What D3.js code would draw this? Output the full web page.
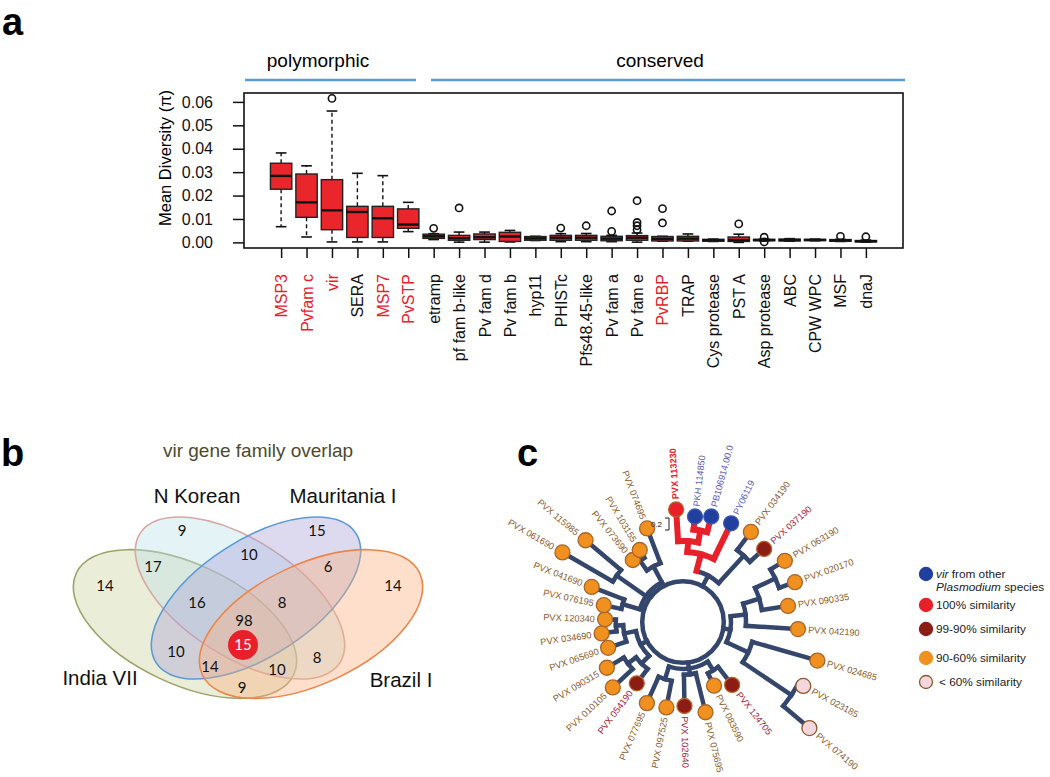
<!DOCTYPE html>
<html>
<head>
<meta charset="utf-8">
<script src="https://cdn.jsdelivr.net/npm/d3@7"></script>
<style>
  body { margin: 0; background: #fff; }
  svg { font-family: "Liberation Sans", Arial, sans-serif; }
</style>
</head>
<body>
<svg id="fig" width="1050" height="777"></svg>
<script>
// ---- panel a : diversity per gene family ----
const genes = ['MSP3', 'Pvfam c', 'vir', 'SERA', 'MSP7', 'PvSTP', 'etramp', 'pf fam b-like', 'Pv fam d',
  'Pv fam b', 'hyp11', 'PHISTc', 'Pfs48.45-like', 'Pv fam a', 'Pv fam e', 'PvRBP', 'TRAP', 'Cys protease',
  'PST A', 'Asp protease', 'ABC', 'CPW WPC', 'MSF', 'dnaJ']
const redGenes = ['MSP3', 'Pvfam c', 'vir', 'MSP7', 'PvSTP', 'PvRBP']
const whiskLo = [0.0067, 0.0023, 0.0002, 0.0002, 0.0002, 0.0046, 0.0012, 0.0001, 0.0001, 0.0002, 0.0008, 0.0003,
  0.0003, 0.0003, 0.0001, 0.0005, 0.0005, 0.0004, 0.0000, 0.0006, 0.0005, 0.0007, 0.0004, 0.0001]
const q1 = [0.0227, 0.0107, 0.0054, 0.0021, 0.0021, 0.0060, 0.0017, 0.0009, 0.0012, 0.0004, 0.0009, 0.0009,
  0.0009, 0.0007, 0.0009, 0.0006, 0.0006, 0.0005, 0.0004, 0.0007, 0.0006, 0.0008, 0.0005, 0.0002]
const medians = [0.0284, 0.0171, 0.0137, 0.0130, 0.0103, 0.0076, 0.0026, 0.0018, 0.0022, 0.0025, 0.0017, 0.0020,
  0.0020, 0.0016, 0.0020, 0.0015, 0.0016, 0.0009, 0.0010, 0.0010, 0.0010, 0.0010, 0.0008, 0.0005]
const q3 = [0.0338, 0.0292, 0.0268, 0.0154, 0.0154, 0.0143, 0.0035, 0.0030, 0.0036, 0.0043, 0.0025, 0.0030,
  0.0030, 0.0026, 0.0029, 0.0025, 0.0026, 0.0013, 0.0023, 0.0013, 0.0014, 0.0013, 0.0012, 0.0008]
const whiskHi = [0.0382, 0.0327, 0.0561, 0.0295, 0.0285, 0.0171, 0.0037, 0.0044, 0.0044, 0.0051, 0.0026, 0.0037,
  0.0038, 0.0030, 0.0040, 0.0026, 0.0036, 0.0014, 0.0035, 0.0014, 0.0016, 0.0014, 0.0013, 0.0010]
const outliers = [[], [], [0.0615], [], [], [], [0.0060], [0.0147], [], [], [], [0.0061],
  [0.0071], [0.0047, 0.0134], [0.0054, 0.0071, 0.0085, 0.0178], [0.0083, 0.0144], [], [],
  [0.0079], [0.0002, 0.0022], [], [], [0.0026], [0.0024]]
const yTicks = [0, 0.01, 0.02, 0.03, 0.04, 0.05, 0.06]

// ---- panel b : vir overlap ----
const vennSets = ['India VII', 'N Korean', 'Mauritania I', 'Brazil I']
// region key: sets (by initial) sharing the genes
const vennRegions = ['I', 'K', 'M', 'B', 'IK', 'KM', 'MB', 'IKM', 'KMB', 'IKMB', 'IM', 'KB', 'IMB', 'IKB', 'IB']
const vennCounts = [14, 9, 15, 14, 17, 10, 6, 16, 8, 98, 10, 8, 14, 10, 9]
const vennCore = 15

// ---- panel c : vir tree ----
const leafNames = ['PVX 113230', 'PKH 114850', 'PB106914.00.0', 'PY06119', 'PVX 034190', 'PVX 037190',
  'PVX 063190', 'PVX 020170', 'PVX 090335', 'PVX 042190', 'PVX 024685', 'PVX 023185', 'PVX 074190',
  'PVX 124705', 'PVX 083590', 'PVX 075695', 'PVX 102640', 'PVX 097525', 'PVX 077695', 'PVX 054190',
  'PVX 010105', 'PVX 090315', 'PVX 065690', 'PVX 034690', 'PVX 120340', 'PVX 076195', 'PVX 041690',
  'PVX 061690', 'PVX 115985', 'PVX 073690', 'PVX 103155', 'PVX 074695']
const leafClass = ['s100', 'other', 'other', 'other', 's90', 's99', 's90', 's90', 's90', 's90', 's90', 's60', 's60',
  's99', 's90', 's90', 's99', 's90', 's90', 's99', 's90', 's90', 's90', 's90', 's90', 's90', 's90', 's90', 's90',
  's90', 's90', 's90']
const leafAngle = [-93.5, -83.5, -75, -64, -53, -42, -31, -19.6, -8.7, 3.5, 16, 28, 40, 52, 64, 76, 89, 101, 114,
  127, 137, 149, 161, 172, 182, 192, 201, 210, 220, 231, 239, 249]
const leafDepth = [1.88, 1.77, 1.82, 1.83, 1.88, 1.82, 1.98, 1.98, 1.77, 1.92, 2.33, 2.27, 2.75, 1.33, 1.18, 1.55,
  1.40, 1.45, 1.48, 1.28, 1.60, 1.48, 1.32, 1.37, 1.30, 1.35, 1.63, 2.32, 2.12, 1.33, 1.40, 1.67]
// [depth, children...]; numbers are leaf indexes
const topology = [0.68,
  [0.88, [1.17, [1.35, 0, [1.55, 1, 2]], 3], [1.5, 4, 5]],
  [0.8, [1.05, [1.33, [1.7, 6, 7], 8], 9], [1.2, 10, [2.18, 11, 12]]],
  [0.78, [0.95, 13, 14], [0.88, 15, 16], [1.0, 17, 18]],
  [0.8, [0.98, 19, [1.15, 20, 21]], [1.0, 22, [1.12, 23, 24]]],
  [0.75, [1.05, 25, 26], [1.35, 27, 28], [1.05, [1.25, 29, 30], 31]]]
const redClade = [0, 1, 2, 3]
const legendKeys = ['other', 's100', 's99', 's90', 's60']
const legendText = ['from other', '100% similarity', '99-90% similarity', '90-60% similarity', '< 60% similarity']

const svg = d3.select('#fig')

// panel letters
svg.selectAll('.plabel')
  .data([['a', 2, 35], ['b', 1, 466], ['c', 517, 466]])
  .enter().append('text')
  .attr('x', (d)=> d[1]).attr('y', (d)=> d[2])
  .attr('font-size', 38).attr('font-weight', 'bold')
  .text((d)=> d[0])

// ================= panel a =================
const x = d3.scaleLinear().domain([-0.46, genes.length + 1.46]).range([244, 903])
const y = d3.scaleLinear().domain([-0.0024, 0.0638]).range([248, 93])
const bw = x(0.42) - x(0)

// group headers
const groupLine = '#5b9bd5'
svg.append('line').attr('x1', 245).attr('x2', 416).attr('y1', 80).attr('y2', 80)
  .attr('stroke', groupLine).attr('stroke-width', 2.5)
svg.append('line').attr('x1', 431).attr('x2', 905).attr('y1', 80).attr('y2', 80)
  .attr('stroke', groupLine).attr('stroke-width', 2.5)
svg.append('text').attr('x', 318).attr('y', 67).attr('text-anchor', 'middle')
  .attr('font-size', 19).text('polymorphic')
svg.append('text').attr('x', 660).attr('y', 67).attr('text-anchor', 'middle')
  .attr('font-size', 19).text('conserved')

const yAxis = svg.append('g')
  .attr('transform', 'translate(244,0)')
  .call(d3.axisLeft(y).tickValues(yTicks).tickFormat(d3.format('.2f')).tickSize(11).tickPadding(20))
yAxis.select('.domain').remove()
yAxis.selectAll('line').attr('stroke', '#111').attr('stroke-width', 1.5)
yAxis.selectAll('text').attr('font-size', 16).attr('fill', '#111')
  .attr('font-family', '"Liberation Sans", Arial, sans-serif')

svg.append('text')
  .attr('transform', 'translate(171,158) rotate(-90)')
  .attr('text-anchor', 'middle').attr('font-size', 16.5)
  .text('Mean Diversity (π)')

const xAxis = svg.append('g')
  .attr('transform', 'translate(0,248)')
  .call(d3.axisBottom(x).tickValues(d3.range(1, genes.length + 1)).tickFormat('').tickSize(10))
xAxis.select('.domain').remove()
xAxis.selectAll('line').attr('stroke', '#111').attr('stroke-width', 1.5)

svg.selectAll('.glabel')
  .data(genes)
  .enter().append('text')
  .attr('class', 'glabel')
  .attr('transform', (d, i)=> `translate(${x(i + 1) + 6},274) rotate(-90)`)
  .attr('text-anchor', 'end').attr('font-size', 16)
  .attr('fill', (d)=> redGenes.includes(d) ? '#e8202a' : '#111')
  .text((d)=> d)

const boxes = genes.map((g, i)=> ({
  i: i + 1, lo: whiskLo[i], q1: q1[i], med: medians[i], q3: q3[i], hi: whiskHi[i], out: outliers[i]
}))

const bx = svg.selectAll('.box').data(boxes).enter().append('g').attr('class', 'box')
bx.append('line')
  .attr('x1', (d)=> x(d.i)).attr('x2', (d)=> x(d.i))
  .attr('y1', (d)=> y(d.q3)).attr('y2', (d)=> y(d.hi))
  .attr('stroke', '#111').attr('stroke-width', 1.4).attr('stroke-dasharray', '4,3')
bx.append('line')
  .attr('x1', (d)=> x(d.i)).attr('x2', (d)=> x(d.i))
  .attr('y1', (d)=> y(d.q1)).attr('y2', (d)=> y(d.lo))
  .attr('stroke', '#111').attr('stroke-width', 1.4).attr('stroke-dasharray', '4,3')
bx.selectAll('.cap').data((d)=> [[d.i, d.hi], [d.i, d.lo]]).enter().append('line')
  .attr('x1', (d)=> x(d[0]) - bw / 2).attr('x2', (d)=> x(d[0]) + bw / 2)
  .attr('y1', (d)=> y(d[1])).attr('y2', (d)=> y(d[1]))
  .attr('stroke', '#111').attr('stroke-width', 1.6)
bx.append('rect')
  .attr('x', (d)=> x(d.i) - bw).attr('width', 2 * bw)
  .attr('y', (d)=> y(d.q3)).attr('height', (d)=> Math.max(1, y(d.q1) - y(d.q3)))
  .attr('fill', '#e8262b').attr('stroke', '#222').attr('stroke-width', 1.4)
bx.append('line')
  .attr('x1', (d)=> x(d.i) - bw).attr('x2', (d)=> x(d.i) + bw)
  .attr('y1', (d)=> y(d.med)).attr('y2', (d)=> y(d.med))
  .attr('stroke', '#111').attr('stroke-width', 2.4)
bx.selectAll('.out').data((d)=> d.out.map((v)=> [d.i, v])).enter().append('circle')
  .attr('cx', (d)=> x(d[0])).attr('cy', (d)=> y(d[1])).attr('r', 3.6)
  .attr('fill', 'none').attr('stroke', '#111').attr('stroke-width', 1.6)

svg.append('rect').attr('x', 244).attr('y', 93).attr('width', 659).attr('height', 155)
  .attr('fill', 'none').attr('stroke', '#111').attr('stroke-width', 1.6)

// ================= panel b =================
svg.append('text').attr('x', 258).attr('y', 457).attr('text-anchor', 'middle')
  .attr('font-size', 19).attr('fill', '#4d4a2e').text('vir gene family overlap')

const ellipses = [
  { cx: 185, cy: 624, rx: 120, ry: 60, rot: 25, fill: '#c9cf95', op: 0.38, stroke: '#9ea36b' },
  { cx: 240, cy: 598, rx: 119, ry: 58, rot: 33, fill: '#bfe2e6', op: 0.42, stroke: '#d6a8a2' },
  { cx: 256, cy: 598, rx: 119, ry: 58, rot: -33, fill: '#a59fd8', op: 0.38, stroke: '#5b9bd5' },
  { cx: 311, cy: 624, rx: 120, ry: 60, rot: -25, fill: '#f9b07c', op: 0.40, stroke: '#ec8548' }
]
svg.selectAll('.venn').data(ellipses).enter().append('ellipse')
  .attr('cx', (d)=> d.cx).attr('cy', (d)=> d.cy).attr('rx', (d)=> d.rx).attr('ry', (d)=> d.ry)
  .attr('transform', (d)=> `rotate(${d.rot},${d.cx},${d.cy})`)
  .attr('fill', (d)=> d.fill).attr('fill-opacity', (d)=> d.op)
  .attr('stroke', (d)=> d.stroke).attr('stroke-width', 1.6)

const setLabelPos = [[100, 685], [197, 503], [343, 503], [401, 687]]
svg.selectAll('.setlabel').data(vennSets).enter().append('text')
  .attr('x', (d, i)=> setLabelPos[i][0]).attr('y', (d, i)=> setLabelPos[i][1])
  .attr('text-anchor', 'middle').attr('font-size', 20.5).attr('fill', '#111')
  .text((d)=> d)

const regionPos = {
  I: [105, 586], K: [182, 531], M: [317, 531], B: [393, 586], IK: [153, 567], KM: [249, 555],
  MB: [328, 567], IKM: [197, 603], KMB: [282, 603], IKMB: [244, 621], IM: [176, 652], KB: [317, 658],
  IMB: [210, 667], IKB: [277, 670], IB: [242, 688]
}
svg.selectAll('.vcount').data(vennRegions).enter().append('text')
  .attr('x', (d)=> regionPos[d][0]).attr('y', (d)=> regionPos[d][1] + 5)
  .attr('text-anchor', 'middle').attr('font-size', 15).attr('font-family', 'Lato, "Open Sans", sans-serif')
  .attr('fill', '#111')
  .text((d, i)=> vennCounts[i])
svg.append('circle').attr('cx', 243).attr('cy', 645).attr('r', 15).attr('fill', '#e8202a')
svg.append('text').attr('x', 243).attr('y', 650).attr('text-anchor', 'middle').attr('font-size', 15)
  .attr('font-family', 'Lato, "Open Sans", sans-serif').attr('fill', '#fff').text(vennCore)

// ================= panel c =================
const cx = 683, cy = 622
const treeR = d3.scaleLinear().domain([0, 1]).range([0, 60])
const rad = (a)=> a * Math.PI / 180
const polar = (r, a)=> [cx + treeR(r) * Math.cos(rad(a)), cy + treeR(r) * Math.sin(rad(a))]

function build(t) {
  if (typeof t === 'number') return { leaf: t }
  return { depth: t[0], children: t.slice(1).map(build) }
}
const root = d3.hierarchy(build(topology))
root.eachAfter((n)=> {
  if (n.children) {
    n.r = n.data.depth
    n.a = (n.children[0].a + n.children[n.children.length - 1].a) / 2
    n.red = n.children.every((c)=> c.red)
  } else {
    n.r = leafDepth[n.data.leaf]
    n.a = leafAngle[n.data.leaf]
    n.red = redClade.includes(n.data.leaf)
  }
})

const navy = '#34466c', red = '#e8202a'
const branches = []
root.descendants().forEach((n)=> {
  if (n.parent) {
    const p = d3.path()
    const a = polar(n.parent.r, n.a), b = polar(n.r, n.a)
    p.moveTo(a[0], a[1]); p.lineTo(b[0], b[1])
    branches.push({ d: p.toString(), red: n.red })
  }
  if (n.children && n.parent) {
    const p = d3.path()
    const a0 = n.children[0].a, a1 = n.children[n.children.length - 1].a
    const s = polar(n.r, a0)
    p.moveTo(s[0], s[1])
    p.arc(cx, cy, treeR(n.r), rad(a0), rad(a1), false)
    branches.push({ d: p.toString(), red: n.red })
  }
})

svg.append('circle').attr('cx', cx).attr('cy', cy).attr('r', treeR(root.r))
  .attr('fill', 'none').attr('stroke', navy).attr('stroke-width', 4.5)
svg.selectAll('.branch').data(branches.filter((b)=> !b.red).concat(branches.filter((b)=> b.red)))
  .enter().append('path')
  .attr('d', (d)=> d.d).attr('fill', 'none')
  .attr('stroke', (d)=> d.red ? red : navy)
  .attr('stroke-width', (d)=> d.red ? 6 : 4.5)
  .attr('stroke-linecap', 'square')

const leafFill = { other: '#213f9e', s100: '#e8202a', s99: '#8c1d14', s90: '#f0911f', s60: '#f4d6df' }
const leafStroke = { other: '#3b57b0', s100: '#b4622a', s99: '#b4622a', s90: '#a8642a', s60: '#8b5a2b' }
const leafText = { other: '#5a5ab4', s100: '#e8202a', s99: '#a0203a', s90: '#8b5a2b', s60: '#8b5a2b' }

const leaves = root.leaves()
svg.selectAll('.leaf').data(leaves).enter().append('circle')
  .attr('cx', (d)=> polar(d.r, d.a)[0]).attr('cy', (d)=> polar(d.r, d.a)[1])
  .attr('r', 7.5)
  .attr('fill', (d)=> leafFill[leafClass[d.data.leaf]])
  .attr('stroke', (d)=> leafStroke[leafClass[d.data.leaf]]).attr('stroke-width', 1.3)

svg.selectAll('.leaflabel').data(leaves).enter().append('text')
  .attr('transform', (d)=> {
    const p = polar(d.r + 0.17, d.a)
    const flip = Math.cos(rad(d.a)) < -0.1
    return `translate(${p[0]},${p[1]}) rotate(${flip ? d.a + 180 : d.a})`
  })
  .attr('text-anchor', (d)=> Math.cos(rad(d.a)) < -0.1 ? 'end' : 'start')
  .attr('dy', '0.35em')
  .attr('font-size', 9.2)
  .attr('font-weight', (d)=> leafClass[d.data.leaf] === 's100' ? 'bold' : 'normal')
  .attr('fill', (d)=> leafText[leafClass[d.data.leaf]])
  .text((d)=> leafNames[d.data.leaf])

// scale bar
const sb = treeR(0.2)
svg.append('path')
  .attr('d', `M665,${524 - sb / 2}H669V${524 + sb / 2}H665`)
  .attr('fill', 'none').attr('stroke', '#222').attr('stroke-width', 1)
svg.append('text').attr('x', 662).attr('y', 527).attr('text-anchor', 'end')
  .attr('font-size', 8).attr('fill', '#222').text('0.2')

// legend
const legY = [574, 605, 629, 658, 682]
const leg = svg.selectAll('.legend').data(legendKeys).enter().append('g')
  .attr('transform', (d, i)=> `translate(926,${legY[i]})`)
leg.append('circle').attr('r', 6.5)
  .attr('fill', (d)=> leafFill[d])
  .attr('stroke', (d)=> d === 's60' ? '#8b5a2b' : leafFill[d]).attr('stroke-width', 1.3)
leg.append('text').attr('x', (d, i)=> i === 4 ? 13 : 10).attr('dy', '0.35em').attr('font-size', 11.8)
  .attr('fill', '#222')
  .each(function(d, i) {
    const t = d3.select(this)
    if (d === 'other') {
      t.append('tspan').attr('font-style', 'italic').text('vir')
      t.append('tspan').text(' ' + legendText[i])
      t.append('tspan').attr('x', 10).attr('dy', '1.05em').attr('font-style', 'italic').text('Plasmodium')
      t.append('tspan').text(' species')
    } else {
      t.text(legendText[i])
    }
  })
</script>
</body>
</html>
